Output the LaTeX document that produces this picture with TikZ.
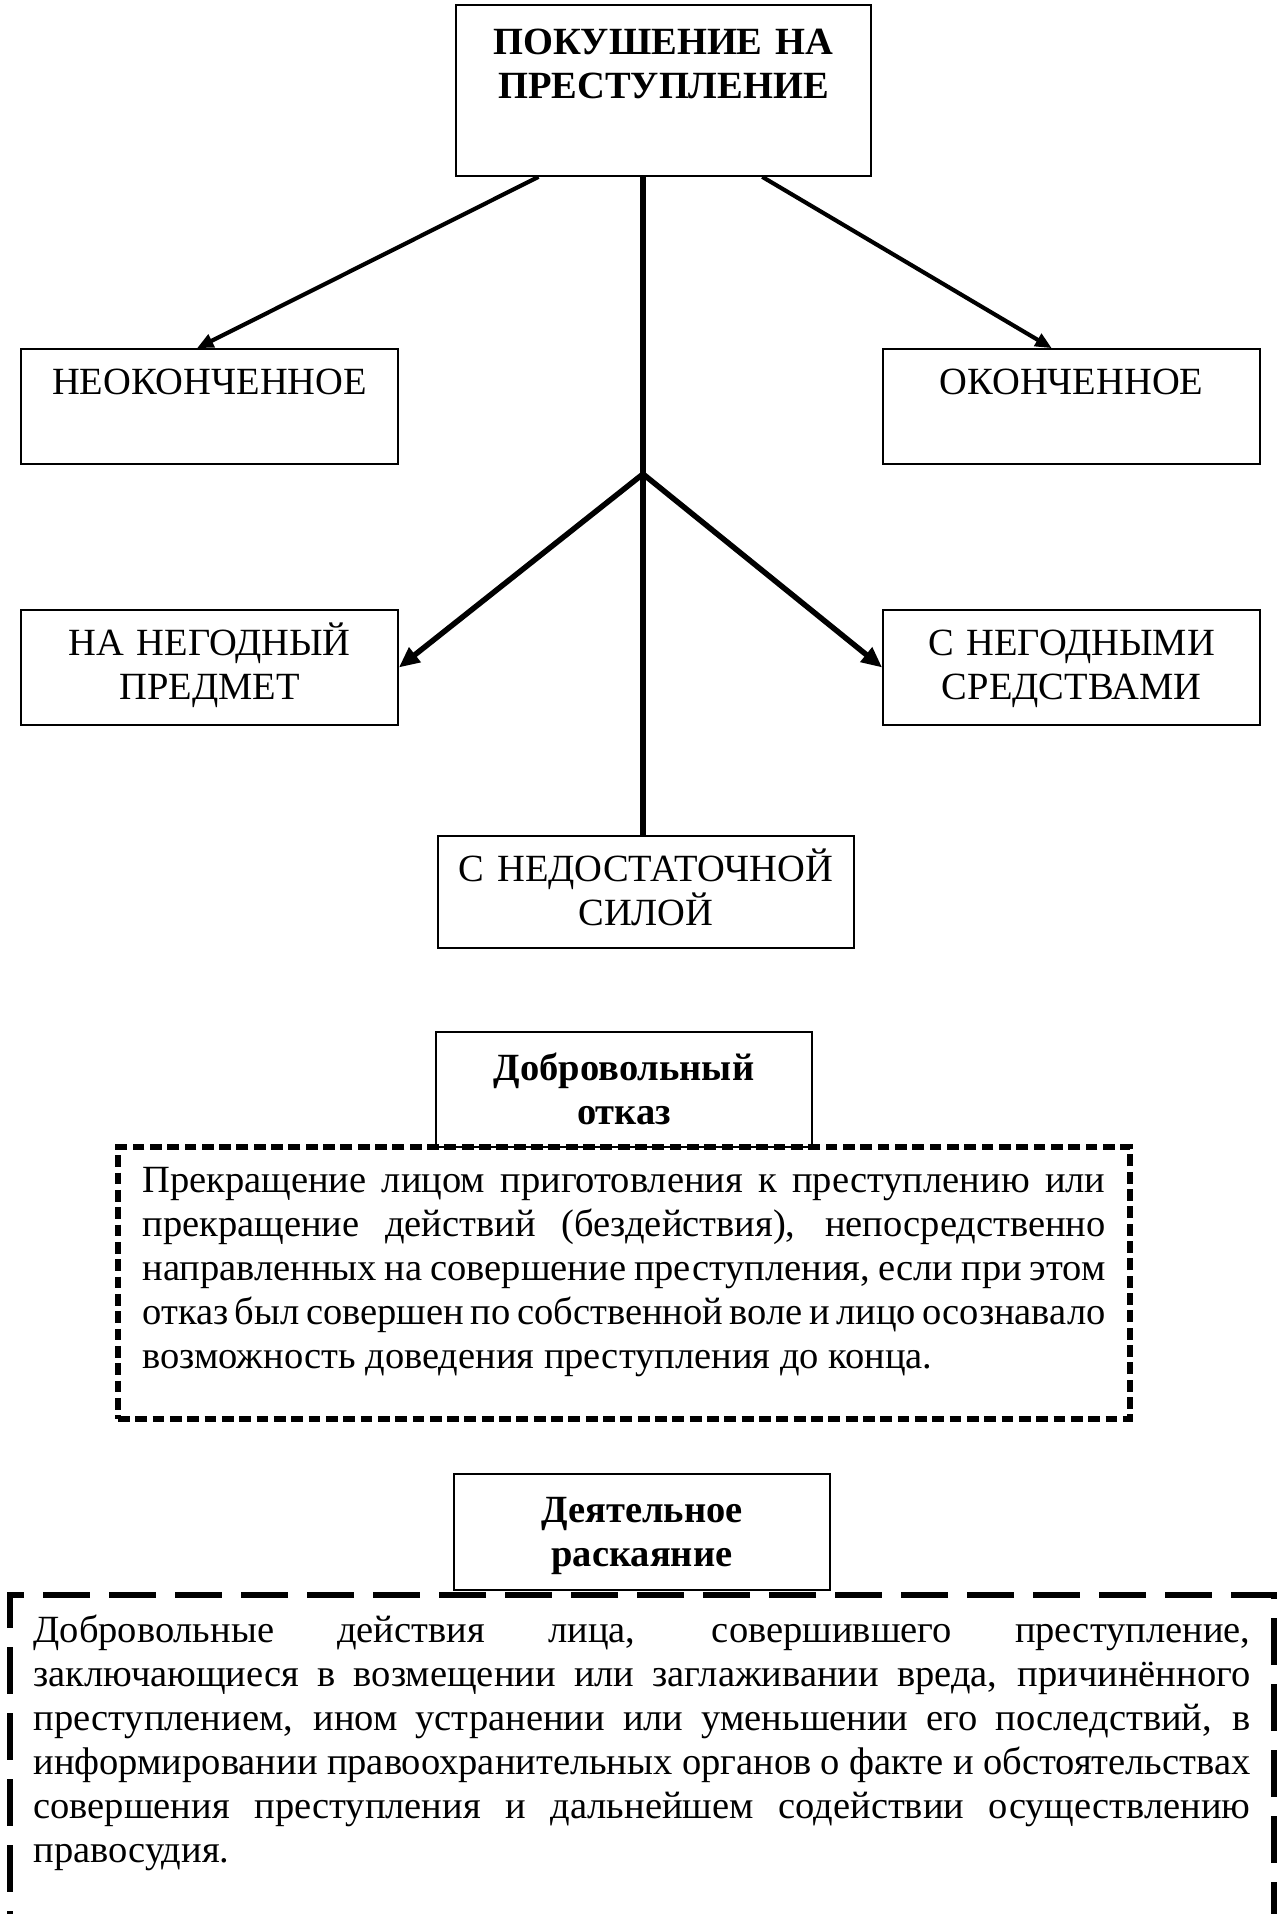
\documentclass[tikz,border=0pt]{standalone}
\usepackage{fontspec}
\setmainfont{Liberation Serif}
\usetikzlibrary{arrows.meta, calc}
\usetikzlibrary{positioning}

\tikzset{
	box/.style={draw, line width=0.6pt, align=center, text width=129.1pt,
		inner xsep=4pt, inner ysep=4pt, text height=12.4pt, text depth=21.4pt,
		font=\fontsize{14pt}{16pt}\selectfont},
	head/.style={box, font=\fontsize{14pt}{16pt}\selectfont\bfseries},
	note/.style={align=justify, inner ysep=4.3pt, text height=12.4pt,
		font=\fontsize{14pt}{16pt}\selectfont,
		execute at begin node={\tolerance=10000\hyphenpenalty=10000}},
	arr/.style={-{Triangle[length=6pt, width=5pt]}, line width=1.5pt},
	arrb/.style={-{Triangle[length=7.5pt, width=6.5pt]}, line width=2pt},
}

\begin{document}
\begin{tikzpicture}[x=0.3636pt, y=-0.3636pt]
	\useasboundingbox (0,0) rectangle (1281,1914);
	
	\node[head, text width=142.9pt, inner ysep=5.5pt, text depth=38.8pt] (pokush) at (663.5,90.5) {ПОКУШЕНИЕ НА\\ПРЕСТУПЛЕНИЕ};
	
	\node[box] (neok) at (209.5,406.5) {НЕОКОНЧЕННОЕ};
	\node[box] (okon) at (1071.5,406.5) {ОКОНЧЕННОЕ};
	\node[box] (predmet) at (209.5,667.5) {НА НЕГОДНЫЙ\\ПРЕДМЕТ};
	\node[box] (sredstva) at (1071.5,667.5) {С НЕГОДНЫМИ\\СРЕДСТВАМИ};
	\node[box, text width=143.3pt, text depth=20.3pt] (sila) at (646,892) {С НЕДОСТАТОЧНОЙ\\СИЛОЙ};
	
	\coordinate (fork) at (643,474);
	\draw[line width=2pt] (fork |- pokush.south) -- (fork |- sila.north);
	\draw[arr] ($(pokush.south west)!0.2!(pokush.south east)$) -- ($(neok.north west)!0.467!(neok.north east)$);
	\draw[arr] ($(pokush.south west)!0.737!(pokush.south east)$) -- ($(okon.north west)!0.448!(okon.north east)$);
	\foreach \dst/\side in {predmet/east, sredstva/west}{
		\draw[arrb] (fork) -- (\dst.\side);
	}
	
	% dobrovolnyj otkaz
	\node[head, text width=128.7pt, inner ysep=5.1pt, text depth=19.2pt] (dobr) at (624,1089.5) {Добровольный\\отказ};
	\node[note, draw, line width=2pt, dash pattern=on 4.3pt off 2pt, text width=350.2pt,
		inner xsep=8.9pt, text depth=77.9pt] (otkaz) at (624,1283)
		{Прекращение лицом приготовления к преступлению или\linebreak
		прекращение действий (бездействия), непосредственно\linebreak
		направленных на совершение преступления, если при этом\linebreak
		отказ был совершен по собственной воле и лицо осознавало\linebreak
		возможность доведения преступления до конца.};
	
	% deyatelnoe raskayanie
	\node[head, text width=128.7pt, inner ysep=5.1pt, text depth=19.6pt] (deyat) at (642,1532) {Деятельное\\раскаяние};
	\node[note, draw, line width=2.4pt, dash pattern=on 17pt off 7pt, text width=442.5pt,
		inner xsep=8.55pt, inner ysep=4.7pt, text depth=96pt] (raskay) at (642,1757)
		{Добровольные действия лица, совершившего преступление,\linebreak
		заключающиеся в возмещении или заглаживании вреда, причинённого\linebreak
		преступлением, ином устранении или уменьшении его последствий, в\linebreak
		информировании правоохранительных органов о факте и обстоятельствах\linebreak
		совершения преступления и дальнейшем содействии осуществлению\linebreak
		правосудия.};
	
\end{tikzpicture}
\end{document}
